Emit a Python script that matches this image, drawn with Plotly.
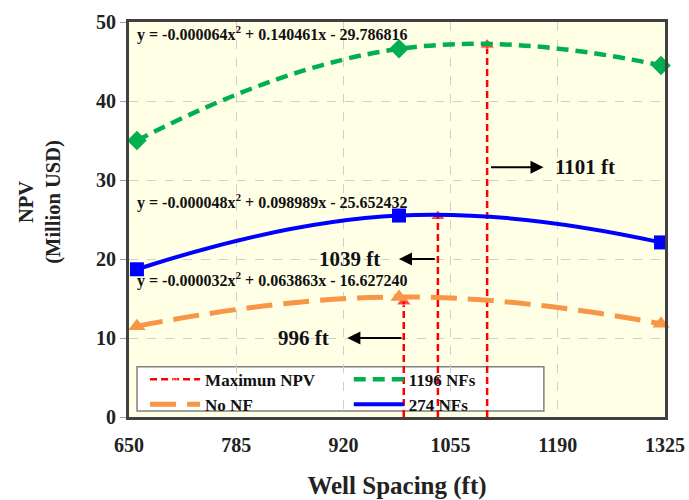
import plotly.graph_objects as go

# ---- data ----
spacing = [660, 990, 1320]
npv_1196 = [35.0, 46.6, 44.5]
npv_274 = [18.7, 25.5, 22.1]
npv_nonf = [11.5, 15.2, 11.8]

opt_x = [996, 1039, 1101]
opt_y = [14.6, 25.4, 47.1]

eq_texts = [
    "y = -0.000064x<sup>2</sup> + 0.140461x - 29.786816",
    "y = -0.000048x<sup>2</sup> + 0.098989x - 25.652432",
    "y = -0.000032x<sup>2</sup> + 0.063863x - 16.627240",
]
eq_pos_y = [48.6, 27.3, 17.4]

opt_labels = ["1101 ft", "1039 ft", "996 ft"]
label_x = [1224, 928, 870]
label_y = [31.6, 20.0, 10.0]
arrow_from = [1104, 1037, 995]
arrow_to = [1172, 990, 925]

xticks = [650, 785, 920, 1055, 1190, 1325]
yticks = [0, 10, 20, 30, 40, 50]

FONT = "Liberation Serif"

fig = go.Figure()

# red "Maximum NPV" vertical arrows
rx, ry, rs = [], [], []
for xv, yv in zip(opt_x, opt_y):
    rx += [xv, xv, None]
    ry += [0, yv, None]
    rs += [0, 13, 0]
fig.add_trace(go.Scatter(
    x=rx, y=ry, mode="lines+markers", name="Maximun NPV",
    line=dict(color="#FF0000", width=2.5, dash="7px,4px"),
    marker=dict(symbol="triangle-up", size=rs, color="#FF0000"),
    legend="legend", cliponaxis=False))

series = [
    ("No NF", npv_nonf, "#F79646", 5, "26px,11px", "triangle-up", 15, "legend"),
    ("1196 NFs", npv_1196, "#00B050", 4.5, "12px,7px", "diamond", 15, "legend2"),
    ("274 NFs", npv_274, "#0000FF", 4, "solid", "square", 14, "legend2"),
]
for name, vals, col, w, dash, sym, msz, leg in series:
    fig.add_trace(go.Scatter(
        x=spacing, y=vals, mode="lines", name=name,
        line=dict(color=col, width=w, dash=dash, shape="spline", smoothing=1.3),
        legend=leg, cliponaxis=False))
    fig.add_trace(go.Scatter(
        x=spacing, y=vals, mode="markers", name=name, showlegend=False,
        marker=dict(symbol=sym, size=msz, color=col), cliponaxis=False))

annotations = []
for t, yv in zip(eq_texts, eq_pos_y):
    annotations.append(dict(x=657, y=yv, xref="x", yref="y", text=t, showarrow=False,
                            xanchor="left", yanchor="middle",
                            font=dict(family=FONT, size=16, color="#111111", weight="bold")))
for t, lx, ly, a0, a1 in zip(opt_labels, label_x, label_y, arrow_from, arrow_to):
    annotations.append(dict(x=lx, y=ly, xref="x", yref="y", text=t, showarrow=False,
                            xanchor="center", yanchor="middle",
                            font=dict(family=FONT, size=21, color="#111111", weight="bold")))
    annotations.append(dict(x=a1, y=ly, ax=a0, ay=ly, xref="x", yref="y", axref="x", ayref="y",
                            text="", showarrow=True, arrowhead=2, arrowsize=1.3, arrowwidth=2,
                            arrowcolor="#000000"))
annotations.append(dict(x=-0.166, y=0.545, xref="paper", yref="paper",
                        xanchor="center", yanchor="middle",
                        text="NPV<br>(Million USD)", showarrow=False, textangle=-90,
                        font=dict(family=FONT, size=20.5, color="#222222", weight="bold")))

shapes = [dict(type="rect", xref="paper", yref="paper", x0=0.015, x1=0.774, y0=0.015, y1=0.127,
               fillcolor="white", line=dict(color="#808080", width=1.5), layer="between")]

legend_font = dict(family=FONT, size=17, color="#111111", weight="bold")
fig.update_layout(
    width=689, height=500,
    margin=dict(l=129, r=24, t=22, b=83),
    paper_bgcolor="white", plot_bgcolor="#FFFFE6",
    font=dict(family=FONT, color="#222222"),
    annotations=annotations, shapes=shapes,
    legend=dict(x=0.03, y=0.14, xanchor="left", yanchor="top", bgcolor="rgba(0,0,0,0)",
                borderwidth=0, font=legend_font, itemwidth=50, tracegroupgap=0),
    legend2=dict(x=0.41, y=0.14, xanchor="left", yanchor="top", bgcolor="rgba(0,0,0,0)",
                 borderwidth=0, font=legend_font, itemwidth=50, tracegroupgap=0),
    xaxis=dict(range=[650, 1325], tickvals=xticks, ticktext=[str(v) for v in xticks],
               automargin=False,
               showgrid=True, gridcolor="#CFCFCF", griddash="dash", gridwidth=1,
               showline=True, linecolor="#404040", linewidth=3, mirror=True,
               ticks="outside", ticklen=8, tickcolor="rgba(0,0,0,0)",
               tickfont=dict(family=FONT, size=20, color="#222222", weight="bold"),
               title=dict(text="Well Spacing (ft)", standoff=22,
                          font=dict(family=FONT, size=25, color="#222222", weight="bold")),
               zeroline=False),
    yaxis=dict(range=[0, 50], tickvals=yticks, automargin=False,
               showgrid=True, gridcolor="#CFCFCF", griddash="dash", gridwidth=1,
               showline=True, linecolor="#404040", linewidth=3, mirror=True,
               ticks="outside", ticklen=6, tickcolor="#A0A0A0",
               tickfont=dict(family=FONT, size=20, color="#222222", weight="bold"),
               zeroline=False),
)

fig.write_html("out.html")
